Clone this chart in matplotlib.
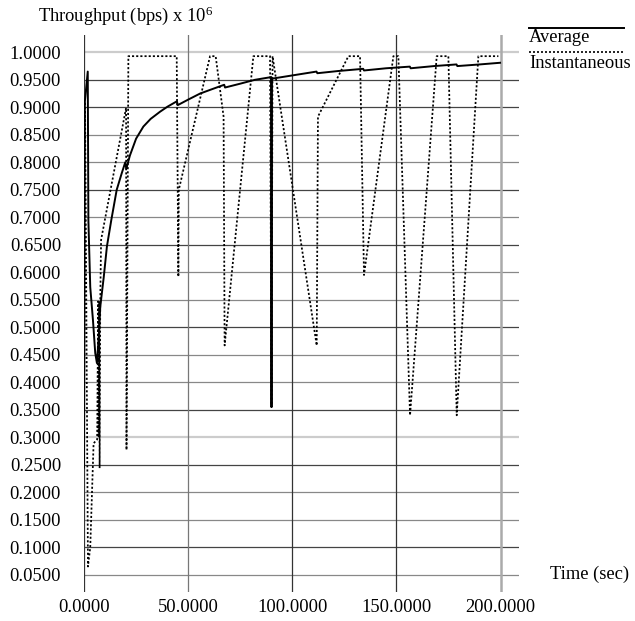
import matplotlib
matplotlib.use("Agg")
import matplotlib.pyplot as plt
from matplotlib.lines import Line2D
import numpy as np

plt.rcParams['font.family'] = ['Liberation Serif', 'DejaVu Serif']
plt.rcParams['mathtext.fontset'] = 'custom'
plt.rcParams['mathtext.rm'] = 'Liberation Serif'
plt.rcParams['mathtext.it'] = 'Liberation Serif:italic'

# Average throughput (solid)
avg_t = [0.0, 0.4, 1.8, 2.1, 3.0, 4.3, 5.4, 6.2, 7.1, 7.8, 9.5, 11.0, 13.1, 15.7,
         18.1, 19.8, 20.3, 22.0, 25.0, 28.5, 32.0, 36.5, 40.0, 44.6, 45.0, 50.0,
         55.7, 60.0, 67.3, 67.7, 75.0, 82.0, 89.95, 90.0, 90.05, 100.0, 111.6, 112.0,
         122.0, 134.0, 134.4, 145.0, 156.4, 156.8, 168.0, 178.8, 179.2, 190.0, 199.7]
avg_v = [0.245, 0.910, 0.965, 0.695, 0.573, 0.513, 0.453, 0.435, 0.483, 0.537, 0.592,
         0.647, 0.695, 0.750, 0.780, 0.800, 0.788, 0.812, 0.843, 0.865, 0.879, 0.892,
         0.901, 0.911, 0.904, 0.914, 0.925, 0.931, 0.941, 0.936, 0.943, 0.950, 0.955,
         0.355, 0.952, 0.958, 0.965, 0.962, 0.966, 0.970, 0.967, 0.971, 0.974, 0.971,
         0.975, 0.978, 0.975, 0.978, 0.981]

# Instantaneous throughput (dotted)
inst_t = [0.0, 0.5, 1.9, 3.0, 4.6, 6.3, 6.8, 7.0, 7.3, 7.5, 7.8, 8.2, 20.2, 20.4,
          21.3, 44.5, 45.3, 45.5, 60.5, 63.2, 67.0, 67.5, 81.3, 89.3, 90.0, 90.5,
          111.7, 112.3, 126.9, 132.5, 134.4, 148.5, 150.9, 156.5, 169.3, 174.9,
          178.9, 189.3, 198.9]
inst_v = [0.245, 0.910, 0.065, 0.100, 0.289, 0.296, 0.547, 0.300, 0.547, 0.244,
          0.547, 0.659, 0.899, 0.277, 0.993, 0.993, 0.592, 0.750, 0.993, 0.993,
          0.883, 0.467, 0.993, 0.993, 0.355, 0.993, 0.467, 0.883, 0.993, 0.993,
          0.595, 0.993, 0.993, 0.340, 0.993, 0.993, 0.340, 0.993, 0.993]

yticks = np.arange(1, 21) * 0.05
xticks = [0, 50, 100, 150, 200]

fig = plt.figure(figsize=(6.35, 6.21), dpi=100)
ax = fig.add_axes([84 / 635, 1 - 592 / 621, 435 / 635, 557 / 621])

ax.set_xlim(0, 208.8)
ax.set_ylim(0.0187, 1.0315)
for s in ax.spines.values():
    s.set_visible(False)

# grid lines (shades vary like the original print)
yshade = ['#888', '#444', '#888', '#888', '#444', '#ccc', '#444', '#888', '#888', '#444',
          '#888', '#888', '#444', '#888', '#444', '#888', '#888', '#444', '#444', '#ccc']
for yv, c in zip(yticks, yshade):
    ax.axhline(yv, color=c, lw=1.6 if c == '#ccc' else 0.9, zorder=0)
xshade = ['#333', '#777', '#333', '#333', '#aaa']
for xv, c in zip(xticks, xshade):
    ax.axvline(xv, color=c, lw=1.8 if c == '#aaa' else 0.9, zorder=0)

ax.plot(inst_t, inst_v, color='black', lw=1.25, ls=(0, (1.2, 1.2)))
ax.plot(avg_t, avg_v, color='black', lw=1.4)

fs = 13.3
ax.set_yticks(yticks)
ax.set_yticklabels(['%.4f' % v for v in yticks])
ax.set_xticks(xticks)
ax.set_xticklabels(['%.4f' % v for v in xticks])
ax.tick_params(length=0, labelsize=fs, colors='black')
ax.tick_params(axis='y', pad=16.5)
ax.tick_params(axis='x', pad=5)

fig.text(38 / 635, 1 - 21 / 621, r'Throughput (bps) x $10^{6}$', fontsize=fs,
         ha='left', va='baseline')
fig.text(550 / 635, 1 - 574 / 621, 'Time (sec)', fontsize=fs, ha='left', va='center')

# legend
fig.add_artist(Line2D([529 / 635, 624 / 635], [1 - 28 / 621, 1 - 28 / 621],
                      transform=fig.transFigure, color='black', lw=1.4))
fig.text(529 / 635, 1 - 38 / 621, 'Average', fontsize=fs, ha='left', va='center')
fig.add_artist(Line2D([529 / 635, 624 / 635], [1 - 52 / 621, 1 - 52 / 621],
                      transform=fig.transFigure, color='black', lw=1.2,
                      ls=(0, (1.2, 1.2))))
fig.text(529 / 635, 1 - 63 / 621, 'Instantaneous', fontsize=fs, ha='left', va='center')

fig.savefig('out.png', dpi=100)
